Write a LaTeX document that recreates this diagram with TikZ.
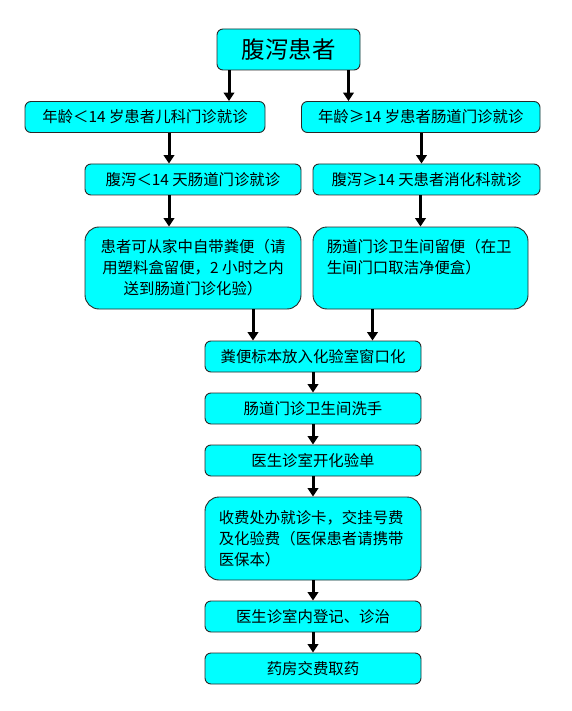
\documentclass[tikz,border=0pt]{standalone}
\usepackage{fontspec}
\setmainfont{Noto Sans CJK SC}
\usetikzlibrary{arrows.meta}
\definecolor{boxfill}{RGB}{0,255,255}
\definecolor{boxdraw}{RGB}{40,40,40}
\begin{document}
\begin{tikzpicture}[x=1pt,y=-1pt,
  box/.style={draw=boxdraw, fill=boxfill, line width=0.9pt, rounded corners=6pt,
    inner sep=0pt, font=\fontsize{15.4}{21}\selectfont},
  bigbox/.style={box, rounded corners=14pt},
  txt/.style={inner sep=0pt, font=\fontsize{15.4}{21}\selectfont},
  arr/.style={-{Triangle[width=10.5pt,length=8.5pt]}, line width=3pt, black}]
\useasboundingbox (0,0) rectangle (572,711);
\fill[white] (0,0) rectangle (572,711);

% boxes
\node[box, minimum width=143pt, minimum height=41pt, font=\fontsize{23.5}{28}\selectfont] (T) at (288.5,49.5) {腹泻患者};
\node[box, minimum width=240pt, minimum height=31pt] (L1) at (145,117) {年龄＜14 岁患者儿科门诊就诊};
\node[box, minimum width=238.5pt, minimum height=31pt] (R1) at (420.75,117) {年龄≥14 岁患者肠道门诊就诊};
\node[box, minimum width=216pt, minimum height=31pt] (L2) at (193,179.5) {腹泻＜14 天肠道门诊就诊};
\node[box, minimum width=227pt, minimum height=31pt] (R2) at (426.5,179.5) {腹泻≥14 天患者消化科就诊};
\node[bigbox, minimum width=216pt, minimum height=82pt] (L3) at (193,268) {};
\node[bigbox, minimum width=215pt, minimum height=82pt] (R3) at (420.5,268) {};
\node[box, minimum width=216pt, minimum height=31pt] (B4) at (313,356.5) {粪便标本放入化验室窗口化};
\node[box, minimum width=216pt, minimum height=31pt] (B5) at (313,408.5) {肠道门诊卫生间洗手};
\node[box, minimum width=216pt, minimum height=31pt] (B6) at (313,460.5) {医生诊室开化验单};
\node[bigbox, minimum width=216pt, minimum height=83pt] (B7) at (313,538.5) {};
\node[box, minimum width=216pt, minimum height=31pt] (B8) at (313,616.5) {医生诊室内登记、诊治};
\node[box, minimum width=216pt, minimum height=31pt] (B9) at (313,668.5) {药房交费取药};

% multi-line texts
\node[txt, anchor=north, align=center] (L3t) at ([yshift=-12.5pt]L3.north)
  {患者可从家中自带粪便（请\\用塑料盒留便，2 小时之内\\送到肠道门诊化验）};
\node[txt, anchor=north west, align=left] (R3t) at ([xshift=14pt,yshift=-12.5pt]R3.north west)
  {肠道门诊卫生间留便（在卫\\生间门口取洁净便盒）};
\node[txt, anchor=north west, align=left] (B7t) at ([xshift=14pt,yshift=-13.5pt]B7.north west)
  {收费处办就诊卡，交挂号费\\及化验费（医保患者请携带\\医保本）};

% arrows
\draw[arr] ([xshift=-59.5pt]T.south) coordinate (a1) -- (a1 |- L1.north);
\draw[arr] ([xshift=60pt]T.south) coordinate (a2) -- (a2 |- R1.north);
\draw[arr] ([xshift=24pt]L1.south) coordinate (a3) -- (a3 |- L2.north);
\draw[arr] ([xshift=0.75pt]R1.south) coordinate (a4) -- (a4 |- R2.north);
\draw[arr] ([xshift=-24pt]L2.south) coordinate (a5) -- (a5 |- L3.north);
\draw[arr] ([xshift=-6pt]R2.south) coordinate (a6) -- (a6 |- R3.north);
\draw[arr] ([xshift=60pt]L3.south) coordinate (a7) -- (a7 |- B4.north);
\draw[arr] ([xshift=-48pt]R3.south) coordinate (a8) -- (a8 |- B4.north);
\draw[arr] (B4.south) -- (B5.north);
\draw[arr] (B5.south) -- (B6.north);
\draw[arr] (B6.south) -- (B7.north);
\draw[arr] (B7.south) -- (B8.north);
\draw[arr] (B8.south) -- (B9.north);
\end{tikzpicture}
\end{document}
